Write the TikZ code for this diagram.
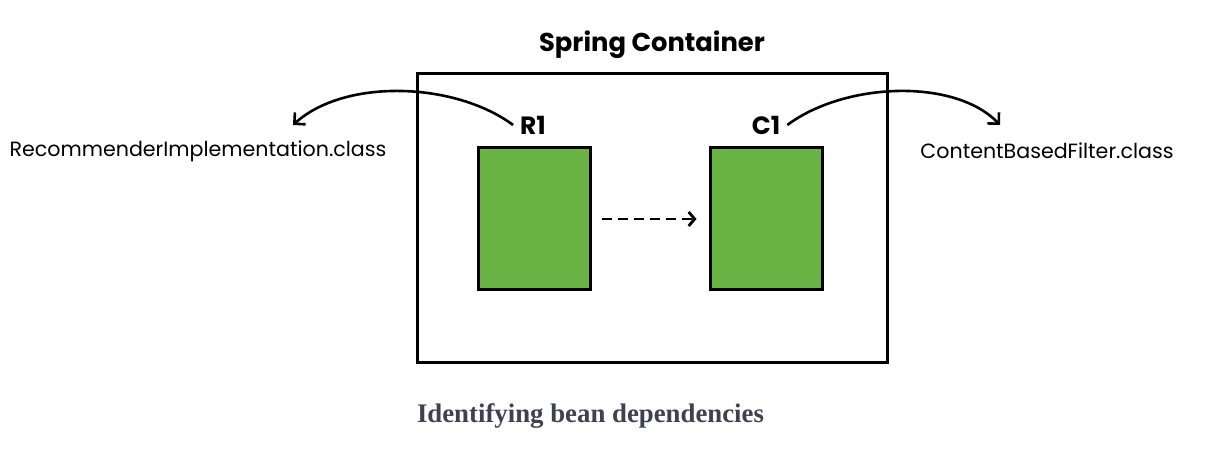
\documentclass[tikz,border=0pt]{standalone}
\usepackage{fontspec}
\setmainfont{Poppins}
\newfontfamily\captionfont{Liberation Serif}
\usetikzlibrary{positioning,arrows.meta}
\definecolor{BeanGreen}{RGB}{106,179,69}
\definecolor{CaptionGray}{RGB}{62,65,80}
\tikzset{
    beanbox/.style={draw=black, fill=BeanGreen, line width=1.5pt, minimum width=56pt, minimum height=71pt, inner sep=0pt},
    beanlabel/.style={font=\bfseries\fontsize{12.5}{12.5}\selectfont},
    classlabel/.style={font=\fontsize{10.3}{11}\selectfont},
    bendarrow/.style={line width=1.3pt, -{Straight Barb[length=4pt, width=8pt, line width=1.3pt]}}
}
\begin{document}
\begin{tikzpicture}[x=0.5pt, y=-0.5pt]
    \useasboundingbox (0,0) rectangle (1216,453);

    % --- container ---
    \node[draw=black, line width=1.5pt, minimum width=235pt, minimum height=144.5pt, inner sep=0pt] (container) at (652,218.5) {};
    \node[font=\bfseries\fontsize{12.9}{13}\selectfont] (title) at (652,45) {Spring Container};

    % --- beans ---
    \node[beanbox] (rbox) at (534,219) {};
    \node[beanbox] (cbox) at (766,219) {};
    \node[beanlabel] (r1) at (533,125) {R1};
    \node[beanlabel] (c1) at (766,125) {C1};

    % dependency
    \draw[line width=1.4pt, dashed, dash pattern=on 5pt off 3pt, -{Straight Barb[length=3pt, width=7pt, line width=1.4pt]}] ([xshift=5pt]rbox.east) -- ([xshift=-6pt]cbox.west);

    % --- class files ---
    \node[classlabel] (rclass) at (198,151) {RecommenderImplementation.class};
    \node[classlabel] (cclass) at (1047,151) {ContentBasedFilter.class};
    \coordinate (rtip) at (293,125);
    \coordinate (ctip) at (1000,125);

    \draw[bendarrow] (r1.west) .. controls (455,82) and (345,78) .. (rtip);
    \draw[bendarrow] (c1.east) .. controls (845,82) and (955,78) .. (ctip);

    % --- caption ---
    \node[font=\captionfont\bfseries\fontsize{13.4}{14}\selectfont, text=CaptionGray] (caption) at (590.5,416) {Identifying bean dependencies};
\end{tikzpicture}
\end{document}
